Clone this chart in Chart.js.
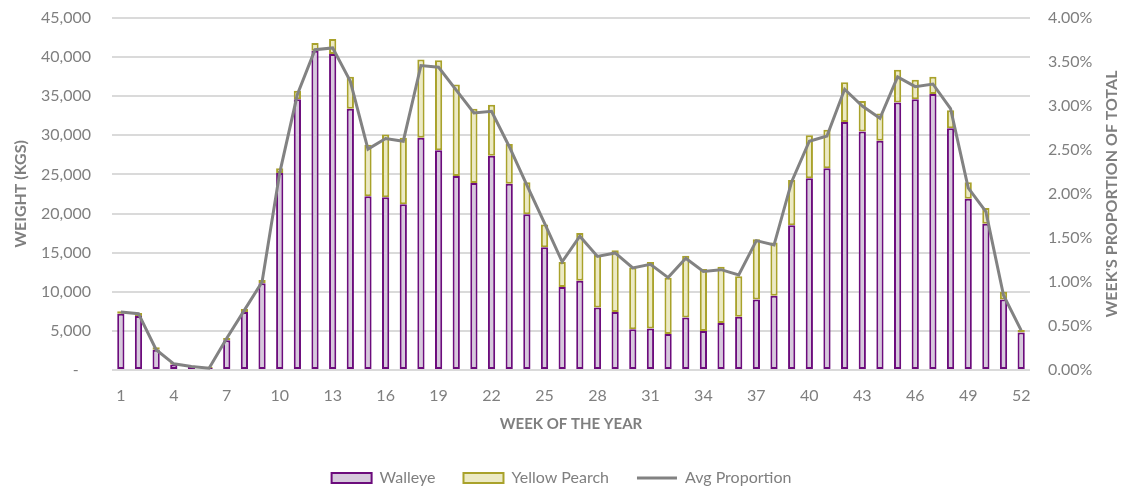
<!DOCTYPE html>
<html>
<head>
<meta charset="utf-8">
<script src="https://cdn.jsdelivr.net/npm/chart.js@4.4.1/dist/chart.umd.min.js"></script>
<style>
html,body{margin:0;padding:0;background:#ffffff;}
#wrap{width:1123px;height:489px;}
</style>
</head>
<body>
<div id="wrap"><canvas id="c" width="1123" height="489"></canvas></div>
<script>
const weeks = ['1','2','3','4','5','6','7','8','9','10','11','12','13','14','15','16','17','18','19','20','21','22','23','24','25','26','27','28','29','30','31','32','33','34','35','36','37','38','39','40','41','42','43','44','45','46','47','48','49','50','51','52'];
const walleye = [7200,6900,2600,700,400,250,3800,7400,11100,25200,34600,40800,40400,33400,22200,22100,21200,29700,28100,24800,23900,27400,23800,19900,15700,10600,11400,8000,7400,5200,5300,4600,6700,5000,6000,6800,9000,9500,18500,24500,25800,31700,30500,29300,34200,34600,35300,30900,21900,18700,9000,4800];
const yellowPerch = [300,400,300,200,150,150,300,400,400,600,1100,1000,1900,4100,6600,8000,8500,10000,11500,11700,9500,6500,5100,4100,2900,3200,6100,6700,7900,7900,8500,7200,7900,7900,7200,5200,7700,6800,5800,5500,4900,5100,3900,3500,4200,2500,2200,2300,2100,2000,1000,300];
const avgProportion = [0.66,0.64,0.23,0.07,0.04,0.02,0.36,0.68,1.00,2.24,3.13,3.64,3.66,3.28,2.51,2.63,2.60,3.46,3.44,3.18,2.92,2.94,2.54,2.10,1.67,1.23,1.52,1.29,1.33,1.16,1.20,1.05,1.27,1.12,1.14,1.08,1.47,1.42,2.14,2.60,2.66,3.19,3.00,2.86,3.33,3.22,3.25,2.97,2.07,1.80,0.85,0.45];
const seriesNames = ['Walleye','Yellow Pearch','Avg Proportion'];
const axisTitles = ['WEEK OF THE YEAR','WEIGHT (KGS)',"WEEK'S PROPORTION OF TOTAL"];

const FONT = 'Lato';
const GREY = '#7f7f7f';
Chart.defaults.font.family = FONT;
Chart.defaults.color = GREY;

const rightTitle = {
  id: 'rightTitle',
  afterDraw(chart) {
    const ctx = chart.ctx;
    const s = chart.scales.y1;
    const a = chart.chartArea;
    ctx.save();
    ctx.translate(s.right - 11, (a.top + a.bottom) / 2);
    ctx.rotate(-Math.PI / 2);
    ctx.textAlign = 'center';
    ctx.textBaseline = 'middle';
    ctx.font = 'bold 16px ' + FONT;
    ctx.fillStyle = GREY;
    ctx.fillText(axisTitles[2], 0, 0);
    ctx.restore();
  }
};

new Chart(document.getElementById('c'), {
  type: 'bar',
  data: {
    labels: weeks,
    datasets: [
      {
        label: seriesNames[0], data: walleye, yAxisID: 'y', stack: 's', order: 1,
        backgroundColor: '#d6c9dc', borderColor: '#6c0c7c', borderWidth: 2, borderSkipped: false,
        barPercentage: 0.41, categoryPercentage: 1.0, pointStyle: 'rect'
      },
      {
        label: seriesNames[1], data: yellowPerch, yAxisID: 'y', stack: 's', order: 1,
        backgroundColor: '#eceac4', borderColor: '#a9a22b', borderWidth: 2, borderSkipped: false,
        barPercentage: 0.41, categoryPercentage: 1.0, pointStyle: 'rect'
      },
      {
        type: 'line', label: seriesNames[2], data: avgProportion, yAxisID: 'y1', order: 0,
        borderColor: '#828282', backgroundColor: '#828282', borderWidth: 3, pointRadius: 0,
        tension: 0, pointStyle: 'line'
      }
    ]
  },
  options: {
    responsive: false,
    animation: false,
    layout: { padding: { top: 18, left: 0, right: 0, bottom: -7 } },
    plugins: {
      tooltip: { enabled: false },
      legend: {
        position: 'bottom',
        labels: {
          usePointStyle: true, pointStyleWidth: 40, boxWidth: 40, boxHeight: 10,
          padding: 28, color: GREY, font: { size: 16, family: FONT },
          sort: (a, b) => a.datasetIndex - b.datasetIndex
        }
      }
    },
    scales: {
      x: {
        type: 'category', stacked: true, offset: true,
        grid: { display: false, drawTicks: false },
        border: { display: false },
        ticks: {
          autoSkip: false, maxRotation: 0, minRotation: 0, padding: 16,
          color: GREY, font: { size: 16 },
          callback: function(v, i) { return i % 3 === 0 ? weeks[i] : ''; }
        },
        title: { display: true, text: axisTitles[0], color: GREY, font: { size: 15, weight: 'bold' }, padding: { top: 0, bottom: 9 } },
        afterFit(scale) { scale.height = 72; }
      },
      y: {
        position: 'left', stacked: true, min: 0, max: 45000,
        grid: { color: '#dadada', lineWidth: 2, drawTicks: false },
        border: { display: false },
        ticks: {
          stepSize: 5000, padding: 21, color: GREY, font: { size: 16 },
          callback: function(v) { return v === 0 ? '-   ' : v.toLocaleString('en-US'); }
        },
        title: { display: true, text: axisTitles[1], color: GREY, font: { size: 16, weight: 'bold' }, padding: { top: 11, bottom: 0 } },
        afterFit(scale) { scale.width = 112; scale.paddingTop = 0; scale.paddingBottom = 0; }
      },
      y1: {
        position: 'right', min: 0, max: 4,
        grid: { drawOnChartArea: false, drawTicks: false },
        border: { display: false },
        ticks: {
          stepSize: 0.5, padding: 18, color: GREY, font: { size: 16 },
          callback: function(v) { return v.toFixed(2) + '%'; }
        },
        afterFit(scale) { scale.width = 93; scale.paddingTop = 0; scale.paddingBottom = 0; }
      }
    }
  },
  plugins: [rightTitle]
});
</script>
</body>
</html>
